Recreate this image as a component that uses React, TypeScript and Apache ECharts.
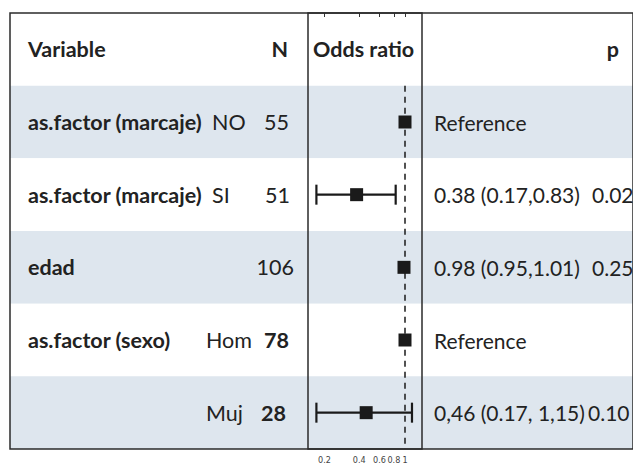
import React, { useEffect, useRef } from "react";
import * as echarts from "echarts";

// ---------- data ----------
const headers = ["Variable", "N", "Odds ratio", "p"];
const variables = ["as.factor (marcaje)", "as.factor (marcaje)", "edad", "as.factor (sexo)", ""];
const levels = ["NO", "SI", "", "Hom", "Muj"];
const nValues = ["55", "51", "106", "78", "28"];
const nBold = [false, false, false, true, true];
const estimate = [1, 0.38, 0.98, 1, 0.46];
const ciLow: (number | null)[] = [null, 0.17, 0.95, null, 0.17];
const ciHigh: (number | null)[] = [null, 0.83, 1.01, null, 1.15];
const estLabels = ["Reference", "0.38 (0.17,0.83)", "0.98 (0.95,1.01)", "Reference", "0,46 (0.17, 1,15)"];
const pLabels = ["", "0.02", "0.25", "", "0.10"];
const tickValues = [0.2, 0.4, 0.6, 0.8, 1];
const refValue = 1;

// ---------- layout ----------
const TABLE_LEFT = 10;
const TABLE_TOP = 13;
const TABLE_H = 436;
const N_ROWS = 6;
const ROW_H = TABLE_H / N_ROWS;
const PLOT_LEFT = 308;
const PLOT_W = 114;
const X_VAR = 28;
const X_LEVEL = [212, 212, 212, 206, 206];
const X_N_RIGHT = [289, 290, 294, 289, 286];
const X_EST = 434;
const X_P = [593, 592, 592, 593, 588];
const FONT = "Lato, 'Noto Sans', sans-serif";
const FONT_SIZE = 21.5;
const FONT_SIZE_EST = 21;
const TEXT_COLOR = "#222222";
const LINE_COLOR = "#2b2b2b";

export default function App() {
  const ref = useRef<HTMLDivElement>(null);

  useEffect(() => {
    if (!ref.current) return;
    const chart = echarts.init(ref.current, null, { renderer: "svg" });

    const rowY = (i: number) => TABLE_TOP + (i + 0.5) * ROW_H;
    const txt = (text: string, x: number, y: number, bold: boolean, align: string = "left", size: number = FONT_SIZE) => ({
      type: "text",
      x,
      y,
      z: 50,
      style: {
        text,
        fontFamily: FONT,
        fontSize: size,
        fontWeight: bold ? "bold" : "normal",
        fill: TEXT_COLOR,
        textAlign: align,
        textVerticalAlign: "middle",
      },
    });

    const graphics: any[] = [];
    graphics.push(txt(headers[0], X_VAR, rowY(0), true));
    graphics.push(txt(headers[1], 288, rowY(0), true, "right"));
    graphics.push(txt(headers[2], 313, rowY(0), true));
    graphics.push(txt(headers[3], 619, rowY(0), true, "right"));
    for (let i = 0; i < variables.length; i++) {
      const y = rowY(i + 1);
      if (variables[i]) graphics.push(txt(variables[i], X_VAR, y, true));
      if (levels[i]) graphics.push(txt(levels[i], X_LEVEL[i], y, false));
      graphics.push(txt(nValues[i], X_N_RIGHT[i], y, nBold[i], "right"));
      graphics.push(txt(estLabels[i], X_EST, y, false, "left", FONT_SIZE_EST));
      if (pLabels[i]) graphics.push(txt(pLabels[i], X_P[i], y, false, "left", FONT_SIZE_EST));
    }

    const ciData = estimate
      .map((_, i) => [i + 1.5, ciLow[i], ciHigh[i]])
      .filter((d) => d[1] != null && d[2] != null);

    const option: any = {
      animation: false,
      backgroundColor: "#ffffff",
      grid: [
        {
          left: TABLE_LEFT,
          top: TABLE_TOP,
          width: 700,
          height: TABLE_H,
          show: true,
          z: 20,
          borderColor: LINE_COLOR,
          borderWidth: 1.5,
          backgroundColor: "transparent",
        },
        {
          left: PLOT_LEFT,
          top: TABLE_TOP,
          width: PLOT_W,
          height: TABLE_H,
          show: true,
          z: 20,
          borderColor: LINE_COLOR,
          borderWidth: 1.5,
          backgroundColor: "transparent",
        },
      ],
      xAxis: [
        { gridIndex: 0, type: "value", min: 0, max: 1, show: false },
        {
          gridIndex: 1,
          type: "log",
          logBase: 10,
          min: 0.1437,
          max: 1.405,
          axisLine: { show: false },
          splitLine: { show: false },
          axisTick: {
            show: true,
            customValues: tickValues,
            length: 4,
            lineStyle: { color: "#333333", width: 1 },
          },
          axisLabel: {
            customValues: tickValues,
            formatter: (v: number) => String(v),
            fontSize: 9,
            fontFamily: "'Liberation Sans Narrow', 'DejaVu Sans Condensed', sans-serif",
            color: "#444444",
            margin: 6,
          },
        },
      ],
      yAxis: [
        {
          gridIndex: 0,
          type: "category",
          inverse: true,
          data: ["header", "r1", "r2", "r3", "r4", "r5"],
          axisLine: { show: false },
          axisTick: { show: false, interval: 0 },
          axisLabel: { show: false, interval: 0 },
          splitLine: { show: false },
          splitArea: { show: true, interval: 0, areaStyle: { color: ["#ffffff", "#dee6ee"] } },
        },
        { gridIndex: 1, type: "value", min: 0, max: N_ROWS, inverse: true, show: false },
      ],
      graphic: graphics,
      series: [
        {
          type: "custom",
          xAxisIndex: 1,
          yAxisIndex: 1,
          z: 2,
          data: ciData,
          renderItem: (params: any, api: any) => {
            const y = api.value(0);
            const lo = api.coord([api.value(1), y]);
            const hi = api.coord([api.value(2), y]);
            if (hi[0] - lo[0] < 14) return null;
            const style = { stroke: "#1a1a1a", lineWidth: 2.2 };
            return {
              type: "group",
              children: [
                { type: "line", shape: { x1: lo[0], y1: lo[1], x2: hi[0], y2: hi[1] }, style },
                { type: "line", shape: { x1: lo[0], y1: lo[1] - 10, x2: lo[0], y2: lo[1] + 10 }, style },
                { type: "line", shape: { x1: hi[0], y1: hi[1] - 10, x2: hi[0], y2: hi[1] + 10 }, style },
              ],
            };
          },
          markLine: {
            silent: true,
            symbol: ["none", "none"],
            label: { show: false },
            lineStyle: { type: [6, 5], color: "#1a1a1a", width: 1.5 },
            data: [[{ coord: [refValue, 1] }, { coord: [refValue, N_ROWS] }]],
          },
        },
        {
          type: "scatter",
          xAxisIndex: 1,
          yAxisIndex: 1,
          z: 5,
          symbol: "rect",
          symbolSize: 13,
          itemStyle: { color: "#1a1a1a", opacity: 1 },
          data: estimate.map((v, i) => [v, i + 1.5]),
        },
      ],
    };

    chart.setOption(option);
    return () => chart.dispose();
  }, []);

  return <div ref={ref} style={{ width: 633, height: 466, position: "absolute", left: 0, top: 0 }} />;
}
